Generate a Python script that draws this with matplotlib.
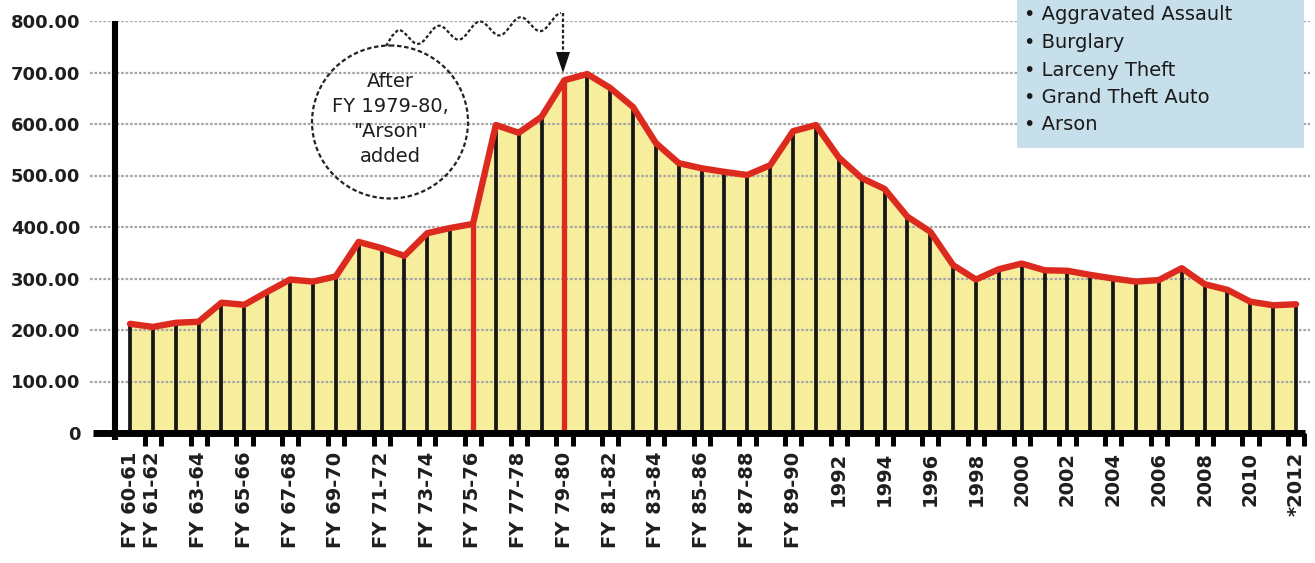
import numpy as np
import matplotlib
matplotlib.use('Agg')
import matplotlib.pyplot as plt
from matplotlib.patches import Ellipse, Rectangle, Polygon

# ---------------- data ----------------
categories = ["FY 60-61", "FY 61-62", "FY 62-63", "FY 63-64", "FY 64-65", "FY 65-66",
              "FY 66-67", "FY 67-68", "FY 68-69", "FY 69-70", "FY 70-71", "FY 71-72",
              "FY 72-73", "FY 73-74", "FY 74-75", "FY 75-76", "FY 76-77", "FY 77-78",
              "FY 78-79", "FY 79-80", "FY 80-81", "FY 81-82", "FY 82-83", "FY 83-84",
              "FY 84-85", "FY 85-86", "FY 86-87", "FY 87-88", "FY 88-89", "FY 89-90",
              "1991", "1992", "1993", "1994", "1995", "1996", "1997", "1998", "1999",
              "2000", "2001", "2002", "2003", "2004", "2005", "2006", "2007", "2008",
              "2009", "2010", "2011", "2012"]
values = [212, 206, 214, 216, 253, 249, 274, 298, 294, 304,
          371, 359, 344, 388, 398, 406, 598, 583, 614, 685,
          697, 670, 633, 563, 524, 514, 507, 501, 520, 586,
          598, 535, 495, 474, 420, 391, 326, 298, 318, 329,
          316, 315, 307, 300, 294, 297, 320, 289, 278, 255,
          248, 250]
tick_cats = ["FY 60-61", "FY 61-62", "FY 63-64", "FY 65-66", "FY 67-68", "FY 69-70",
             "FY 71-72", "FY 73-74", "FY 75-76", "FY 77-78", "FY 79-80", "FY 81-82",
             "FY 83-84", "FY 85-86", "FY 87-88", "FY 89-90", "1992", "1994", "1996",
             "1998", "2000", "2002", "2004", "2006", "2008", "2010", "2012"]
tick_texts = ["FY 60-61", "FY 61-62", "FY 63-64", "FY 65-66", "FY 67-68", "FY 69-70",
              "FY 71-72", "FY 73-74", "FY 75-76", "FY 77-78", "FY 79-80", "FY 81-82",
              "FY 83-84", "FY 85-86", "FY 87-88", "FY 89-90", "1992", "1994", "1996",
              "1998", "2000", "2002", "2004", "2006", "2008", "2010", "*2012"]
y_ticks = [0, 100, 200, 300, 400, 500, 600, 700, 800]
y_tick_texts = ["0", "100.00", "200.00", "300.00", "400.00", "500.00", "600.00",
                "700.00", "800.00"]
highlight_cats = ["FY 75-76", "FY 79-80"]
legend_items = ["Robbery", "Aggravated Assault", "Burglary", "Larceny Theft",
                "Grand Theft Auto", "Arson"]
note_text = "After\nFY 1979-80,\n\"Arson\"\nadded"

# ---------------- figure ----------------
W, H = 1315, 563
fig = plt.figure(figsize=(W / 100, H / 100), dpi=100)
fig.patch.set_facecolor('white')

ax = fig.add_axes([90 / W, 130 / H, 1220 / W, 412 / H])
x = np.arange(len(categories))
vals = np.array(values, dtype=float)

ax.set_xlim(-1.75, 51.61)
ax.set_ylim(0, 800)

YELLOW = '#f7ee9d'
RED = '#dc2a1f'

ax.fill_between(x, 0, vals, color=YELLOW, zorder=1, linewidth=0)
for yv in y_ticks[1:]:
    ax.axhline(yv, color='#a6a6a6', lw=1.6, ls=(0, (1.2, 0.8)), zorder=2)

hl_idx = [categories.index(c) for c in highlight_cats]
normal = [i for i in range(len(categories)) if i not in hl_idx]
ax.vlines(x[normal], 0, vals[normal], color='#161616', lw=2.7, zorder=3)
ax.vlines(x[hl_idx], 0, vals[hl_idx], color=RED, lw=3.8, zorder=4)
ax.plot(x, vals, color=RED, lw=4.6, zorder=5, solid_joinstyle='round',
        solid_capstyle='round')

# axes lines
ax.plot([-1.62, 51.4], [0, 0], color='black', lw=5, clip_on=False, zorder=6,
        solid_capstyle='butt')
ax.plot([-0.656, -0.656], [-14, 800], color='black', lw=4.4, clip_on=False,
        zorder=6, solid_capstyle='butt')

for s in ax.spines.values():
    s.set_visible(False)
ax.set_facecolor('none')

# y ticks
ax.set_yticks(y_ticks)
ax.set_yticklabels(y_tick_texts)
ax.tick_params(axis='y', length=0, pad=7, labelsize=13, labelcolor='#1e1e1e')
for lab in ax.get_yticklabels():
    lab.set_fontweight('bold')

# x ticks: labels at major, pairs of marks at minor
tick_pos = [categories.index(c) for c in tick_cats]
ax.set_xticks(tick_pos)
ax.set_xticklabels(tick_texts, rotation=90, va='top', ha='center')
ax.tick_params(axis='x', which='major', length=0, pad=13.5, labelsize=14,
               labelcolor='#1e1e1e')
for lab in ax.get_xticklabels():
    lab.set_fontweight('bold')
minor = []
for i in range(0, len(categories) - 1, 2):
    minor += [i + 0.65, i + 1.36]
ax.set_xticks(minor, minor=True)
ax.tick_params(axis='x', which='minor', length=9, width=3.6, color='black',
               direction='out')

# ---------------- overlay (pixel coordinates) ----------------
ov = fig.add_axes([0, 0, 1, 1], zorder=10)
ov.set_xlim(0, W)
ov.set_ylim(H, 0)
ov.axis('off')
ov.patch.set_alpha(0)

# legend box
ov.add_patch(Rectangle((1017, -2), 287, 150, facecolor='#c6dfea', edgecolor='none',
                       zorder=1))
for k, item in enumerate(legend_items):
    yy = -12.5 + 27.5 * k
    ov.text(1024, yy, "\u2022 " + item, fontsize=14, color='#1a1a1a',
            ha='left', va='center', zorder=2)

# annotation circle
ov.add_patch(Ellipse((390, 122), 156, 153, facecolor='none', edgecolor='#222222',
                     lw=1.6, ls=(0, (2, 1.2)), zorder=3))
ov.text(390, 119, note_text, fontsize=14, ha='center', va='center',
        color='#1e1e1e', linespacing=1.38, zorder=3)

# wavy connector
t = np.linspace(0, 1, 400)
wx = 398 + 163 * t
wy = 38 - 17 * t - 8 * np.cos(2 * np.pi * 4 * t)
wx = np.concatenate([[386, 392], wx])
wy = np.concatenate([[46, 36], wy])
ov.plot(wx, wy, color='#222222', lw=1.6, ls=(0, (1.5, 1)), zorder=3)
ov.plot([563, 563], [13, 56], color='#222222', lw=1.6, ls=(0, (1.5, 1)), zorder=3)
ov.add_patch(Polygon([[556, 52], [570, 52], [563, 73]], closed=True,
                     facecolor='#111111', edgecolor='none', zorder=3))

fig.savefig('out.png', dpi=100, facecolor='white')
